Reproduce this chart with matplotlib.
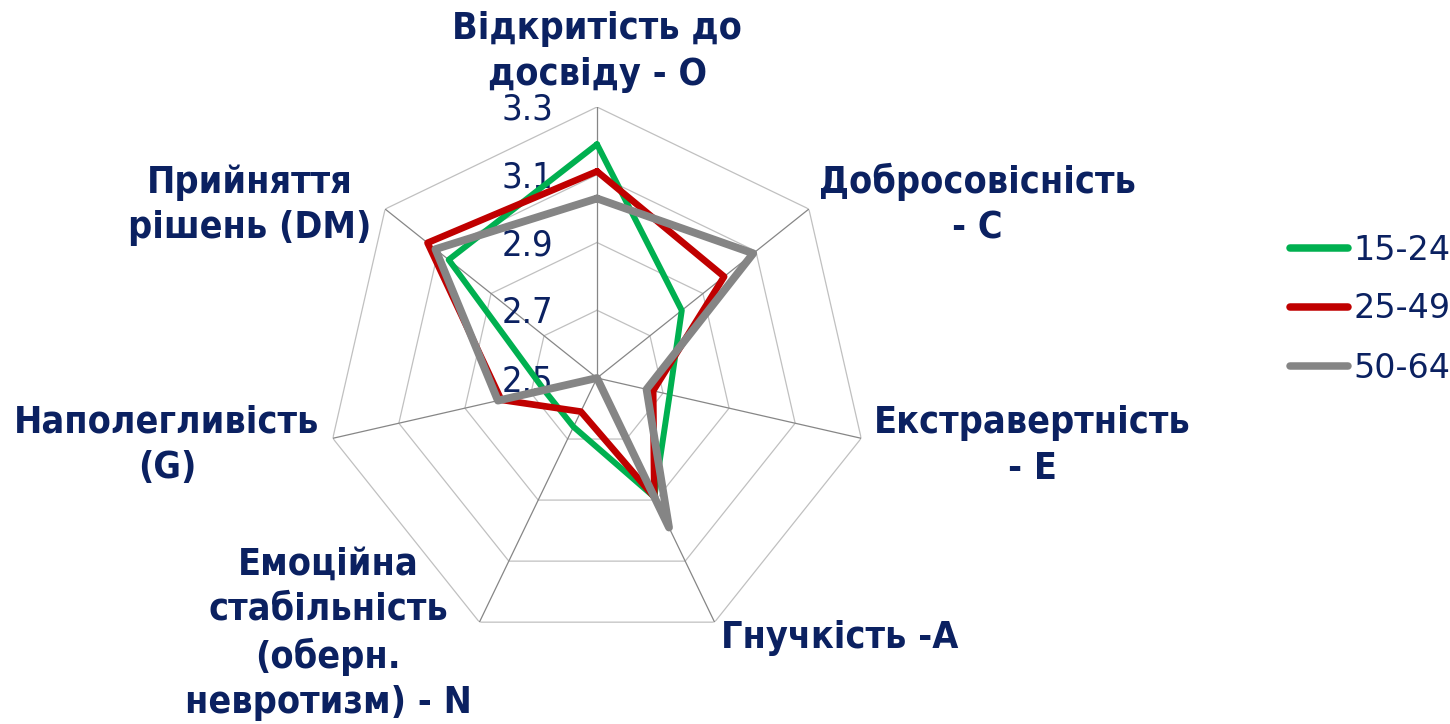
import numpy as np
import matplotlib
matplotlib.use("Agg")
import matplotlib.pyplot as plt
from matplotlib.transforms import offset_copy

categories = ["Відкритість до\nдосвіду - O",
              "Добросовісність\n- C",
              "Екстравертність\n- E",
              "Гнучкість -A",
              "Емоційна\nстабільність\n(оберн.\nневротизм) - N",
              "Наполегливість\n(G)",
              "Прийняття\nрішень (DM)"]

age_15_24 = [3.19, 2.82, 2.72, 2.89, 2.66, 2.66, 3.06]
age_25_49 = [3.11, 2.98, 2.67, 2.89, 2.61, 2.79, 3.14]
age_50_64 = [3.03, 3.09, 2.65, 2.99, 2.50, 2.80, 3.11]

series_names = ["15-24", "25-49", "50-64"]
r_ticks = [2.5, 2.7, 2.9, 3.1, 3.3]

navy = "#0b2161"
colors = ["#00b050", "#c00000", "#858585"]
widths = [4.3, 4.8, 5.6]

plt.rcParams['font.family'] = ['DejaVu Sans']

fig = plt.figure(figsize=(14.5, 7.24), dpi=100)

# axes placed so the centre sits at (597, 378) px and r=3.3 is 271 px away
cx, cy, R = 597 / 1450, 1 - 378 / 724, 271
ax = fig.add_axes([cx - R / 1450, cy - R / 724, 2 * R / 1450, 2 * R / 724],
                  projection="polar")
ax.set_theta_zero_location("N")
ax.set_theta_direction(-1)
ax.set_ylim(r_ticks[0], r_ticks[-1])
ax.grid(False)
ax.set_xticks([])
ax.set_yticks([])
ax.spines["polar"].set_visible(False)
ax.patch.set_visible(False)

n = len(categories)
angles = np.arange(n) * 2 * np.pi / n
closed = np.r_[angles, angles[0]]

# heptagon rings and spokes
for v in r_ticks[1:]:
    ax.plot(closed, [v] * (n + 1), color="#c0c0c0", lw=0.9, zorder=1)
for a in angles:
    ax.plot([a, a], [r_ticks[0], r_ticks[-1]], color="#868686", lw=0.9, zorder=1)

# value labels on the top spoke
tick_tr = offset_copy(ax.transData, fig=fig, x=-44, y=-3, units="dots")
for v in r_ticks:
    ax.text(0, v, f"{v:.1f}", transform=tick_tr, ha="right", va="center",
            fontsize=26, color=navy, stretch="condensed")

all_series = [age_15_24, age_25_49, age_50_64]
for vals, name, c, w in zip(all_series, series_names, colors, widths):
    ax.plot(closed, np.r_[vals, vals[0]], color=c, lw=w, label=name,
            solid_capstyle="round", solid_joinstyle="round", zorder=3)

# category labels
label_pos = [(597, 52), (977, 205), (1032, 446), (840, 638),
             (328, 634), (167, 445), (250, 205)]
for txt, (px, py) in zip(categories, label_pos):
    fig.text(px / 1450, 1 - py / 724, txt, ha="center", va="center",
             fontsize=27, fontweight="bold", color=navy, stretch="condensed",
             linespacing=1.33)

leg = fig.legend(loc="center left", bbox_to_anchor=(1290 / 1450, 1 - 309 / 724),
                 frameon=False, fontsize=24, handlelength=1.75, handletextpad=0.15,
                 labelspacing=0.78, borderpad=0, borderaxespad=0)
for t in leg.get_texts():
    t.set_color(navy)
for h in leg.get_lines():
    h.set_linewidth(5.4)

fig.savefig("out.png", dpi=100)
